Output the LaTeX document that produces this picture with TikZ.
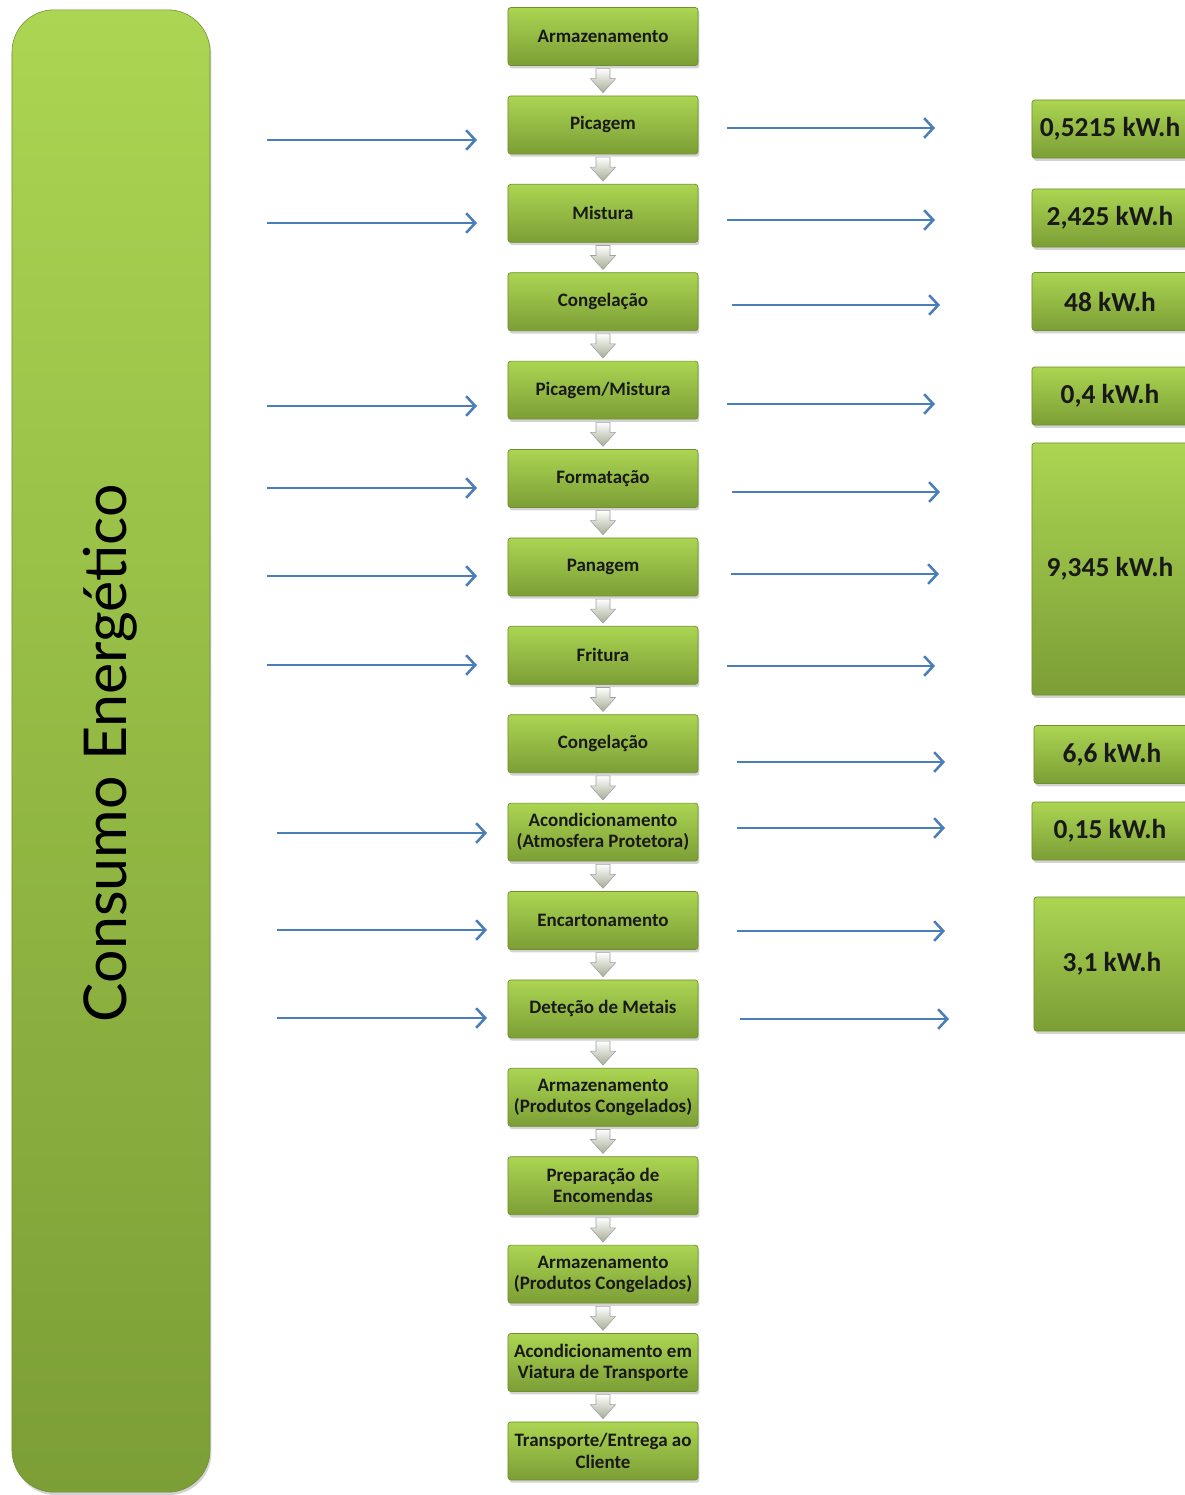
\documentclass[tikz,border=0pt]{standalone}
\usepackage{fontspec}
\setmainfont{Carlito}
\newfontfamily\titlefont{Lato}
\usetikzlibrary{arrows.meta,shadows,calc}

\definecolor{leafTop}{HTML}{ABD552}
\definecolor{leafBot}{HTML}{7C9E36}
\definecolor{leafEdge}{HTML}{6F8F2E}
\definecolor{flowBlue}{HTML}{4A7EBB}

\tikzset{
  etapa/.style={draw=leafEdge, line width=0.5pt, rounded corners=2pt,
    minimum width=4.75cm, minimum height=1.45cm, inner sep=1pt,
    top color=leafTop, bottom color=leafBot, align=center,
    drop shadow={shadow xshift=1pt, shadow yshift=-2pt, opacity=0.35},
    font=\bfseries\fontsize{13.5}{15}\selectfont, text=black!90},
  valor/.style={etapa, minimum width=3.9cm,
    font=\bfseries\fontsize{19.5}{21}\selectfont},
  fluxo/.style={-{Straight Barb[length=6.5pt, width=14pt, line width=1.8pt]},
    flowBlue, line width=1.8pt},
  seta/.pic={\draw[draw=gray!75, line width=0.4pt, top color=white, bottom color=leafBot!35!gray!70]
    (-7,-12) -- (7,-12) -- (7,-2) -- (12.5,-2) -- (0,12) -- (-12.5,-2) -- (-7,-2) -- cycle;}
}

\begin{document}
\begin{tikzpicture}[x=0.025cm, y=-0.025cm]
\useasboundingbox (0,0) rectangle (1185,1495);
\clip (0,0) rectangle (1185,1495);

% coluna da esquerda
\node[draw=leafEdge, rounded corners=30pt, minimum width=4.95cm, minimum height=37.05cm,
  top color=leafTop, bottom color=leafBot,
  drop shadow={shadow xshift=1pt, shadow yshift=-2pt, opacity=0.35}]
  (consumo) at (111,751) {};
\node[rotate=90, font=\titlefont\fontsize{42}{44}\selectfont] (titulo) at (110,753) {Consumo Energético};

% etapas do processo
\foreach \n/\t [count=\i from 0] in {arm1/Armazenamento, pic/Picagem, mis/Mistura,
    con1/Congelação, pmis/{Picagem/Mistura}, form/Formatação, pan/Panagem, fri/Fritura,
    con2/Congelação, acond/{Acondicionamento\\(Atmosfera Protetora)}, encart/Encartonamento,
    detec/Deteção de Metais, arm2/{Armazenamento\\(Produtos Congelados)},
    prep/{Preparação de\\Encomendas}, arm3/{Armazenamento\\(Produtos Congelados)},
    viat/{Acondicionamento em\\Viatura de Transporte}, entr/{Transporte/Entrega ao\\Cliente}} {
  \node[etapa] (\n) at (603,{36.5+88.4*\i}) {\t};
}

% setas entre etapas
\foreach \a/\b in {arm1/pic, pic/mis, mis/con1, con1/pmis, pmis/form, form/pan, pan/fri,
    fri/con2, con2/acond, acond/encart, encart/detec, detec/arm2, arm2/prep, prep/arm3,
    arm3/viat, viat/entr} {
  \path ($(\a.south)!0.5!(\b.north)$) pic {seta};
}

% valores de consumo
\node[valor] (v1) at (1110,129) {0,5215 kW.h};
\node[valor] (v2) at (1110,218) {2,425 kW.h};
\node[valor] (v3) at (1110,301.5) {48 kW.h};
\node[valor] (v4) at (1110,396) {0,4 kW.h};
\node[valor, minimum height=6.3cm] (v5) at (1110,569) {9,345 kW.h};
\node[valor] (v6) at (1112,754.5) {6,6 kW.h};
\node[valor] (v7) at (1110,831) {0,15 kW.h};
\node[valor, minimum height=3.35cm] (v8) at (1112,964) {3,1 kW.h};

% entradas
\foreach \n/\xa/\xb/\y in {pic/267/477/140, mis/267/477/223, pmis/267/477/406,
    form/267/477/488, pan/267/477/576, fri/267/477/665, acond/277/487/833,
    encart/277/487/930, detec/277/487/1018} {
  \coordinate (in-\n) at (\xa,\y);
  \coordinate (to-\n) at (\xb,\y);
  \draw[fluxo] (in-\n) -- (to-\n);
}

% saidas
\foreach \n/\xa/\xb/\y in {pic/727/935/128, mis/727/935/220, con1/732/940/305,
    pmis/727/935/404, form/732/940/492, pan/731/939/574, fri/727/935/666,
    con2/737/945/762, acond/737/945/828, encart/737/945/931, detec/740/949/1019} {
  \coordinate (out-\n) at (\xa,\y);
  \coordinate (end-\n) at (\xb,\y);
  \draw[fluxo] (out-\n) -- (end-\n);
}
\end{tikzpicture}
\end{document}
